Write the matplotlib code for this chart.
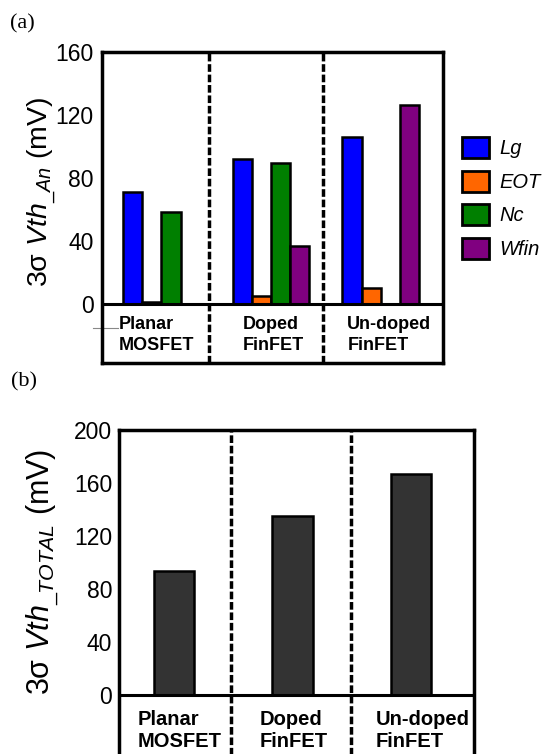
import numpy as np
import matplotlib.pyplot as plt
from matplotlib.patches import Patch

plt.rcParams['font.family'] = ['Liberation Sans', 'DejaVu Sans']
plt.rcParams['mathtext.fontset'] = 'custom'
plt.rcParams['mathtext.rm'] = 'Liberation Sans'
plt.rcParams['mathtext.it'] = 'Liberation Sans:italic'

devices = ['Planar\nMOSFET', 'Doped\nFinFET', 'Un-doped\nFinFET']
sources = ['Lg', 'EOT', 'Nc', 'Wfin']
colors = ['#0000ff', '#ff6600', '#007f00', '#800080']

# 3 sigma Vth per variation source (mV), NaN = not applicable
lg = [71.3, 91.9, 106.2]
eot = [1.0, 5.3, 10.3]
nc = [58.6, 89.3, np.nan]
wfin = [np.nan, 37.0, 126.3]

total = [93.8, 135.3, 166.8]

fig = plt.figure(figsize=(5.43, 7.54), dpi=100)
W, H = 543, 754


def px_axes(l, t, r, b):
    return fig.add_axes([l / W, 1 - b / H, (r - l) / W, (b - t) / H])


def frame(ax, dividers):
    for s in ax.spines.values():
        s.set_linewidth(2.5)
    ax.axhline(0, color='black', lw=2.2, zorder=4)
    for d in dividers:
        ax.axvline(d, color='black', lw=2.5, ls=(0, (2.2, 0.8)), zorder=4)
    ax.set_xticks([])
    ax.tick_params(axis='y', length=0, labelsize=16.5)


# ---- (a) ----
ax1 = px_axes(102, 52, 443, 363)
x = np.arange(len(devices))
bw = 0.174
series = [lg, eot, nc, wfin]
for i, vals in enumerate(series):
    ax1.bar(x + (i - 1.5) * bw, vals, bw, color=colors[i],
            edgecolor='black', lw=1.8, zorder=3)
ax1.set_xlim(-0.543, 2.57)
ax1.set_ylim(-37.5, 160)
ax1.set_yticks([0, 40, 80, 120, 160])
ax1.tick_params(axis='y', pad=6)
frame(ax1, [0.43, 1.47])
shift_a = [-0.045, 0.02, 0.08]
for xi, name, dx in zip(x, devices, shift_a):
    ax1.text(xi + dx, -19.7, name, ha='center', va='center', multialignment='left',
             fontsize=13, fontweight='bold', linespacing=1.25)
ax1.plot([-0.626, -0.4], [-15.2, -15.2], color='#888888', lw=0.8, clip_on=False)
ax1.set_ylabel(r'3σ $\mathit{Vth}_{\_An}$ (mV)', fontsize=20.5)
ax1.yaxis.set_label_coords(-0.13, 0.55)

handles = [Patch(facecolor=c, edgecolor='black', lw=2) for c in colors]
leg = fig.legend(handles, sources, loc='upper left',
                 bbox_to_anchor=(462 / W, 1 - 137 / H), frameon=False,
                 prop={'style': 'italic', 'size': 14.5},
                 handlelength=1.35, handleheight=1.25, labelspacing=0.6,
                 handletextpad=0.5, borderpad=0, borderaxespad=0)

# ---- (b) ----
ax2 = px_axes(119, 430, 474, 760)
x2 = np.arange(len(devices))
ax2.bar(x2, total, 0.34, color='#333333', edgecolor='black', lw=1.8, zorder=3)
ax2.set_xlim(-0.464, 2.53)
ax2.set_ylim(-49, 200)
ax2.set_yticks([0, 40, 80, 120, 160, 200])
ax2.tick_params(axis='y', pad=5)
frame(ax2, [0.48, 1.494])
shift_b = [0.05, 0.01, 0.1]
for xi, name, dx in zip(x2, devices, shift_b):
    ax2.text(xi + dx, -26.4, name, ha='center', va='center', multialignment='left',
             fontsize=14.5, fontweight='bold', linespacing=1.2)
ax2.set_ylabel(r'3σ $\mathit{Vth}_{\_TOTAL}$ (mV)', fontsize=22)
ax2.yaxis.set_label_coords(-0.163, 0.57)

fig.text(10 / W, 1 - 24 / H, '(a)', family='Liberation Serif', fontsize=16, va='center')
fig.text(11 / W, 1 - 382 / H, '(b)', family='Liberation Serif', fontsize=16, va='center')

fig.savefig('out.png', dpi=100)
